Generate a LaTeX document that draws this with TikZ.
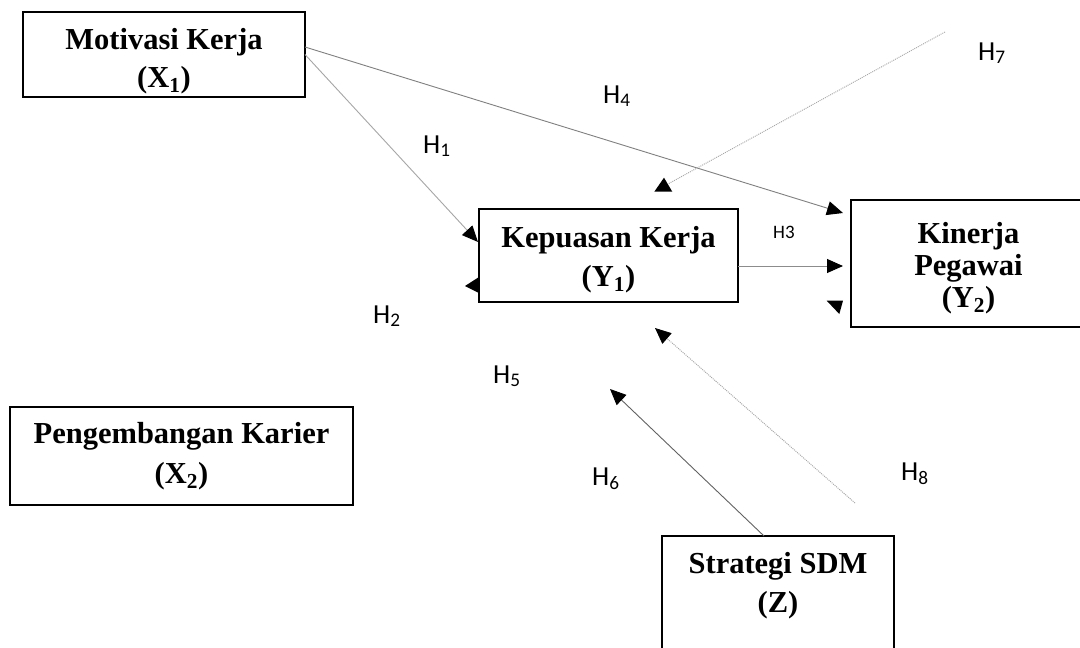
\documentclass[tikz,border=0pt]{standalone}
\usepackage{fontspec}
\setmainfont{Liberation Serif}
\newfontfamily\hfont{Carlito}
\usetikzlibrary{arrows.meta,calc}
\begin{document}
\begin{tikzpicture}[x=1pt,y=-1pt,
  box/.style={draw=black, line width=1.3pt, rectangle, inner sep=0pt, outer sep=0pt},
  btxt/.style={font=\fontsize{30.5}{36}\selectfont\bfseries, anchor=base, inner sep=0pt},
  hlab/.style={font=\hfont\fontsize{27.5}{32}\selectfont, anchor=base west, inner sep=0pt},
  hsmall/.style={font=\hfont\fontsize{19}{22}\selectfont, anchor=base west, inner sep=0pt},
  conn/.style={line width=0.9pt, -{Triangle[length=16pt,width=14pt,color=black]}},
  dotline/.style={line width=0.9pt, draw=black!35, dash pattern=on 1pt off 1pt},
  tipfill/.style={fill=black, draw=none}]
\clip (0,0) rectangle (1080,648);
\fill[white] (0,0) rectangle (1080,648);

% boxes
\node[box, minimum width=282pt, minimum height=85pt] (mot) at (164,54.5) {};
\node[box, minimum width=259pt, minimum height=93pt] (kep) at (608.5,255.5) {};
\node[box, minimum width=235pt, minimum height=127pt] (kin) at (968.5,263.5) {};
\node[box, minimum width=343pt, minimum height=98pt] (peng) at (181.5,456) {};
\node[box, minimum width=232pt, minimum height=144pt] (strat) at (778,608) {};

% box texts
\node[btxt] (motA) at (164,49) {Motivasi Kerja};
\node[btxt] (motB) at (164,87) {(X\textsubscript{1})};
\node[btxt] (kepA) at (608.5,247) {Kepuasan Kerja};
\node[btxt] (kepB) at (608.5,286) {(Y\textsubscript{1})};
\node[btxt] (kinA) at (968.5,243) {Kinerja};
\node[btxt] (kinB) at (968.5,275) {Pegawai};
\node[btxt] (kinC) at (968.5,307) {(Y\textsubscript{2})};
\node[btxt] (pengA) at (181.5,443) {Pengembangan Karier};
\node[btxt] (pengB) at (181.5,483) {(X\textsubscript{2})};
\node[btxt] (stratA) at (778,573) {Strategi SDM};
\node[btxt] (stratB) at (778,612) {(Z)};

% connectors
\draw[conn, draw=black!35] (mot.east) -- ($(kep.west)+(-1pt,13.5pt)$);
\draw[conn, draw=black!50] ($(mot.east)+(0,7.5pt)$) -- ($(kin.north west)+(-8pt,-13pt)$);
\draw[conn, draw=black!45] ($(kep.east)+(0,-10.5pt)$) -- ($(kin.west)+(-8pt,-2.5pt)$);
\coordinate (h6e) at (610,389);
\draw[conn, draw=black!62] ($(strat.north)+(-14pt,0)$) -- (h6e);
\coordinate (h8s) at (855,503);
\coordinate (h8e) at (655,328);
\draw[dotline, -{Triangle[length=16pt,width=14pt,color=black]}] (h8s) -- (h8e);
\coordinate (h7s) at (945,32);
\coordinate (h7e) at (668,184);
\draw[dotline] (h7s) -- (h7e);

% stray arrowheads
\fill[tipfill] (654.3,191.7) -- (672.3,191.7) -- (664,177.7) -- cycle;
\fill[tipfill] (465,286) -- (479,277) -- (479,293) -- cycle;
\fill[tipfill] (826.7,300.7) -- (843,300.7) -- (839.3,314) -- cycle;

% labels
\node[hlab] (H1) at (423,153) {H\textsubscript{1}};
\node[hlab] (H4) at (603,103) {H\textsubscript{4}};
\node[hlab] (H7) at (978,60) {H\textsubscript{7}};
\node[hsmall] (H3) at (773,238) {H3};
\node[hlab] (H2) at (373,323) {H\textsubscript{2}};
\node[hlab] (H5) at (493,383) {H\textsubscript{5}};
\node[hlab] (H6) at (592,485) {H\textsubscript{6}};
\node[hlab] (H8) at (901,480) {H\textsubscript{8}};
\end{tikzpicture}
\end{document}
